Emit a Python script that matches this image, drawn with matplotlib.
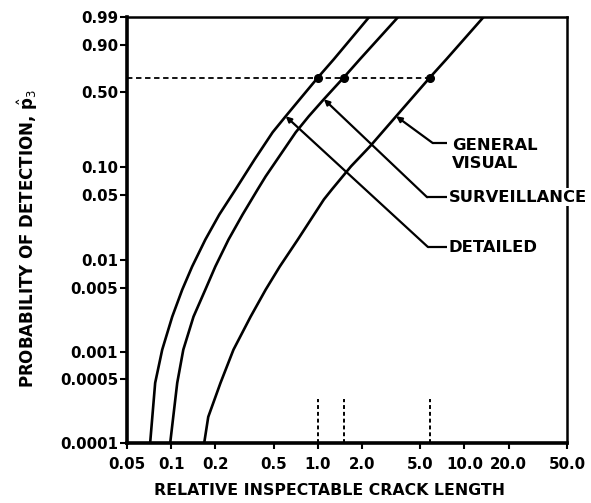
import numpy as np
import matplotlib
matplotlib.use("Agg")
import matplotlib.pyplot as plt
from matplotlib.ticker import NullLocator, FixedLocator

# ---------------- data ----------------
detailed_x = [0.0719, 0.0778, 0.0869, 0.1017, 0.119, 0.139, 0.171, 0.213, 0.275,
              0.371, 0.492, 0.604, 0.754, 1.0, 1.288, 2.24]
detailed_p = [0.0001, 0.000455, 0.00105, 0.00241, 0.00476, 0.0085, 0.0167, 0.0312,
              0.058, 0.1196, 0.2227, 0.3144, 0.4401, 0.632, 0.7968, 0.99]

surveillance_x = [0.0985, 0.110, 0.121, 0.142, 0.171, 0.200, 0.246, 0.307, 0.389,
                  0.441, 0.707, 0.868, 1.100, 1.5, 1.94, 3.53]
surveillance_p = [0.0001, 0.000455, 0.00105, 0.00241, 0.00476, 0.0085, 0.0167, 0.0312,
                  0.058, 0.0796, 0.2227, 0.3144, 0.4401, 0.632, 0.7968, 0.99]

general_x = [0.168, 0.179, 0.217, 0.266, 0.348, 0.441, 0.550, 0.730, 1.100, 1.248,
             1.684, 2.27, 3.42, 5.8, 7.54, 13.5]
general_p = [0.0001, 0.000193, 0.000455, 0.00105, 0.00241, 0.00476, 0.0085, 0.0167,
             0.0453, 0.058, 0.1013, 0.1621, 0.3144, 0.632, 0.7968, 0.99]

ref_p = 0.632                      # characteristic detection level (dashed line)
ref_x = [1.0, 1.5, 5.8]            # crack lengths where curves cross it
ref_mark_top = 0.0003              # top of short dashed marks on x axis

x_ticks = [0.05, 0.1, 0.2, 0.5, 1.0, 2.0, 5.0, 10.0, 20.0, 50.0]
x_ticklabels = ["0.05", "0.1", "0.2", "0.5", "1.0", "2.0", "5.0", "10.0", "20.0", "50.0"]
y_ticks = [0.0001, 0.0005, 0.001, 0.005, 0.01, 0.05, 0.10, 0.50, 0.90, 0.99]
y_ticklabels = ["0.0001", "0.0005", "0.001", "0.005", "0.01", "0.05", "0.10",
                "0.50", "0.90", "0.99"]

# ---------------- Weibull probability scale ----------------
def fwd(p):
    p = np.clip(np.asarray(p, dtype=float), 1e-12, 1 - 1e-12)
    return np.log10(-np.log1p(-p))

def inv(t):
    return -np.expm1(-10.0 ** np.asarray(t, dtype=float))

fig = plt.figure(figsize=(5.91, 5.03), dpi=100)
ax = fig.add_axes([0.2149, 0.1193, 0.7445, 0.8469])
ax.set_xscale("log")
ax.set_yscale("function", functions=(fwd, inv))
ax.set_xlim(0.05, 50)
ax.set_ylim(0.0001, 0.99)

lw_curve = 1.9
for xs, ps in [(detailed_x, detailed_p), (surveillance_x, surveillance_p),
               (general_x, general_p)]:
    ax.plot(xs, ps, color="k", lw=lw_curve, solid_capstyle="butt",
            solid_joinstyle="round")

# dashed reference line and points
ax.plot([0.05, max(ref_x)], [ref_p, ref_p], color="k", lw=1.3, ls=(0, (3, 2)))
ax.plot(ref_x, [ref_p] * len(ref_x), "o", color="k", ms=5.5)
for xv in ref_x:
    ax.plot([xv, xv], [0.0001, ref_mark_top], color="k", lw=1.4, ls=(0, (2, 1.5)))

# ticks
ax.xaxis.set_major_locator(FixedLocator(x_ticks))
ax.xaxis.set_minor_locator(NullLocator())
ax.yaxis.set_major_locator(FixedLocator(y_ticks))
ax.yaxis.set_minor_locator(NullLocator())
ax.set_xticklabels(x_ticklabels, fontweight="bold", fontsize=10.8)
ax.set_yticklabels(y_ticklabels, fontweight="bold", fontsize=10.8)
ax.tick_params(axis="y", direction="out", length=5, width=1.5, pad=1.5)
ax.tick_params(axis="x", direction="out", length=4, width=1.5, pad=6)

for side in ["left", "bottom"]:
    ax.spines[side].set_linewidth(2.6)
for side in ["top", "right"]:
    ax.spines[side].set_linewidth(1.8)

ax.set_xlabel("RELATIVE INSPECTABLE CRACK LENGTH", fontweight="bold", fontsize=11.3)
ax.xaxis.set_label_coords(0.461, -0.095)
ax.set_ylabel(r"PROBABILITY OF DETECTION, $\hat{\mathbf{p}}_3$", fontweight="bold",
              fontsize=12)
ax.yaxis.set_label_coords(-0.197, 0.479)

# labels with leader lines
labels = [
    ("GENERAL\nVISUAL", general_x[12], general_p[12], 0.695, 0.704, 0.739, 0.677),
    ("SURVEILLANCE", surveillance_x[12], surveillance_p[12], 0.682, 0.577, 0.732, 0.577),
    ("DETAILED", detailed_x[11], detailed_p[11], 0.684, 0.460, 0.730, 0.460),
]
for text, cx, cp, ex, ey, tx, ty in labels:
    ax.plot([ex, 0.727], [ey, ey], transform=ax.transAxes, color="k", lw=1.6,
            clip_on=False, solid_capstyle="butt")
    ax.annotate("", xy=(cx, cp), xycoords="data", xytext=(ex, ey),
                textcoords="axes fraction",
                arrowprops=dict(arrowstyle="-|>", color="k", lw=1.6, shrinkA=0,
                                shrinkB=0, mutation_scale=8))
    ax.text(tx, ty, text, transform=ax.transAxes, ha="left", va="center",
            fontweight="bold", fontsize=11.8, linespacing=1.2, zorder=6,
            clip_on=False,
            bbox=dict(facecolor="white", edgecolor="none", pad=1))

fig.savefig("out.png", dpi=100)
